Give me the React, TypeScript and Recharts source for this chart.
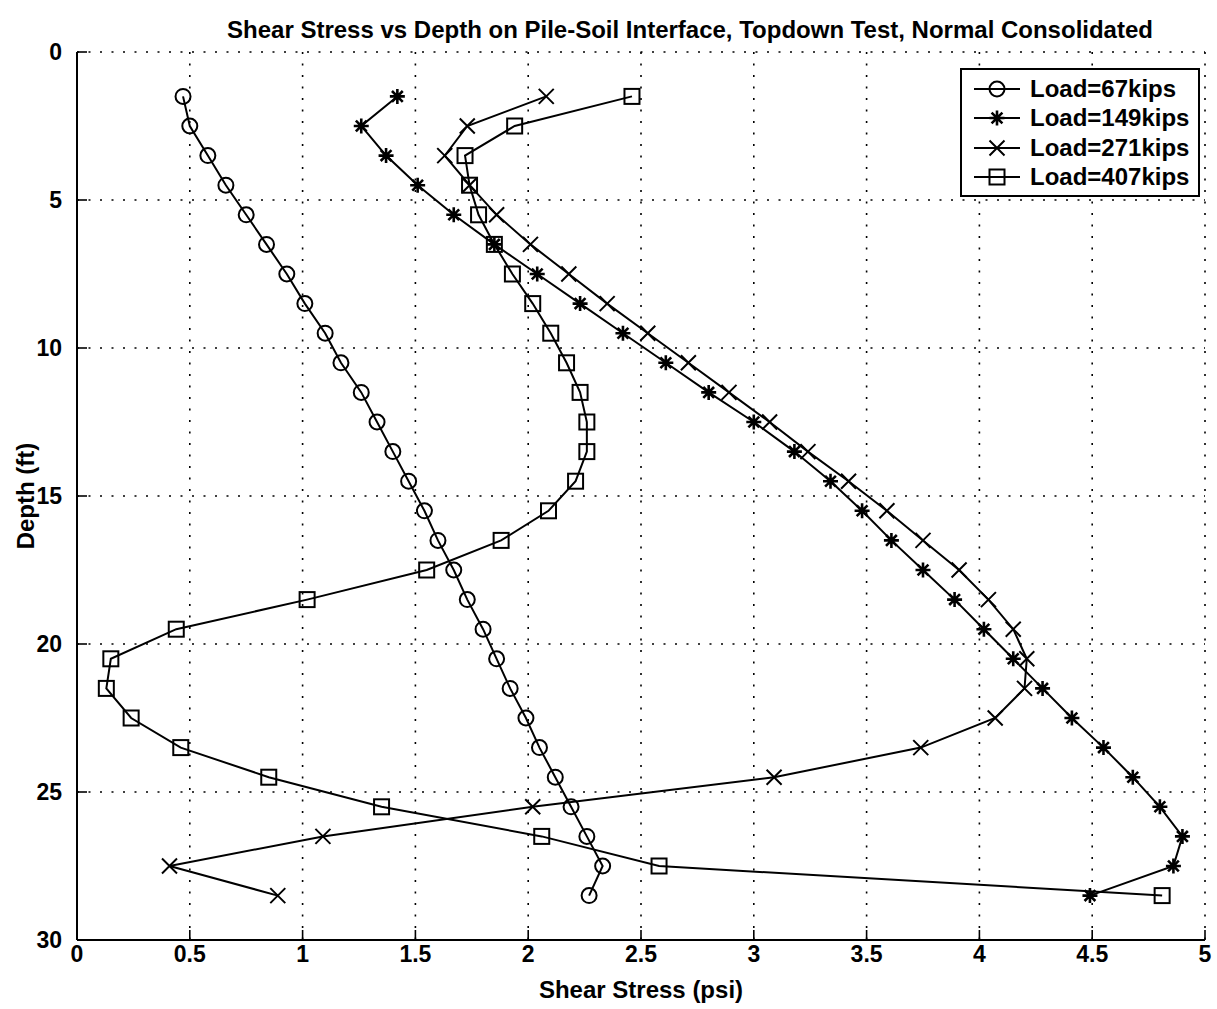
import React from "react";
import {
  ScatterChart,
  Scatter,
  XAxis,
  YAxis,
  CartesianGrid,
  Legend,
  Label,
} from "recharts";

// depth of each gauge level along the pile (ft)
const depthFt = [
  1.5, 2.5, 3.5, 4.5, 5.5, 6.5, 7.5, 8.5, 9.5, 10.5, 11.5, 12.5, 13.5, 14.5,
  15.5, 16.5, 17.5, 18.5, 19.5, 20.5, 21.5, 22.5, 23.5, 24.5, 25.5, 26.5, 27.5,
  28.5,
];

// shear stress (psi) at each depth, one list per load step
const load67 = [
  0.47, 0.5, 0.58, 0.66, 0.75, 0.84, 0.93, 1.01, 1.1, 1.17, 1.26, 1.33, 1.4,
  1.47, 1.54, 1.6, 1.67, 1.73, 1.8, 1.86, 1.92, 1.99, 2.05, 2.12, 2.19, 2.26,
  2.33, 2.27,
];
const load149 = [
  1.42, 1.26, 1.37, 1.51, 1.67, 1.85, 2.04, 2.23, 2.42, 2.61, 2.8, 3.0, 3.18,
  3.34, 3.48, 3.61, 3.75, 3.89, 4.02, 4.15, 4.28, 4.41, 4.55, 4.68, 4.8, 4.9,
  4.86, 4.49,
];
const load271 = [
  2.08, 1.73, 1.63, 1.74, 1.86, 2.01, 2.18, 2.35, 2.53, 2.71, 2.89, 3.07, 3.24,
  3.42, 3.59, 3.75, 3.91, 4.04, 4.15, 4.21, 4.2, 4.07, 3.74, 3.09, 2.02, 1.09,
  0.41, 0.89,
];
const load407 = [
  2.46, 1.94, 1.72, 1.74, 1.78, 1.85, 1.93, 2.02, 2.1, 2.17, 2.23, 2.26, 2.26,
  2.21, 2.09, 1.88, 1.55, 1.02, 0.44, 0.15, 0.13, 0.24, 0.46, 0.85, 1.35, 2.06,
  2.58, 4.81,
];

const loadNames = ["Load=67kips", "Load=149kips", "Load=271kips", "Load=407kips"];

const stressTicks = [0, 0.5, 1, 1.5, 2, 2.5, 3, 3.5, 4, 4.5, 5];
const depthTicks = [0, 5, 10, 15, 20, 25, 30];

const FONT = '"Liberation Sans", Arial, Helvetica, sans-serif';

type MarkerKind = "circle" | "asterisk" | "cross" | "square";

const series: { name: string; values: number[]; marker: MarkerKind }[] = [
  { name: loadNames[0], values: load67, marker: "circle" },
  { name: loadNames[1], values: load149, marker: "asterisk" },
  { name: loadNames[2], values: load271, marker: "cross" },
  { name: loadNames[3], values: load407, marker: "square" },
];

function Marker({ kind, cx, cy }: { kind: MarkerKind; cx: number; cy: number }) {
  const r = 7.5;
  const common = { stroke: "#000", strokeWidth: 2, fill: "none" };
  if (kind === "circle") return <circle cx={cx} cy={cy} r={r} {...common} />;
  if (kind === "square")
    return <rect x={cx - r} y={cy - r} width={2 * r} height={2 * r} {...common} />;
  if (kind === "cross")
    return (
      <path
        d={`M${cx - r},${cy - r}L${cx + r},${cy + r}M${cx - r},${cy + r}L${cx + r},${cy - r}`}
        {...common}
      />
    );
  const d = r * 0.72;
  return (
    <path
      d={`M${cx - r},${cy}L${cx + r},${cy}M${cx},${cy - r}L${cx},${cy + r}M${cx - d},${cy - d}L${cx + d},${cy + d}M${cx - d},${cy + d}L${cx + d},${cy - d}`}
      {...common}
      strokeWidth={2.6}
    />
  );
}

const renderLegend = () => (
  <div
    style={{
      border: "2px solid #000",
      background: "#fff",
      padding: "4px 4px 3px 10px",
      boxSizing: "border-box",
    }}
  >
    {series.map((s) => (
      <div key={s.name} style={{ display: "flex", alignItems: "center", height: 29.5 }}>
        <svg width={50} height={20}>
          <line x1={2} x2={48} y1={10} y2={10} stroke="#000" strokeWidth={2} />
          <Marker kind={s.marker} cx={25} cy={10} />
        </svg>
        <span
          style={{
            fontFamily: FONT,
            fontWeight: "bold",
            fontSize: 24,
            marginLeft: 8,
            lineHeight: "24px",
          }}
        >
          {s.name}
        </span>
      </div>
    ))}
  </div>
);

const tickStyle = { fill: "#000", fontSize: 23, fontWeight: "bold", fontFamily: FONT };
const axisLine = { stroke: "#000", strokeWidth: 2 };
const tickLine = { stroke: "#000", strokeWidth: 1.6 };

export default function App() {
  const seriesData = series.map((s) => ({
    ...s,
    points: depthFt.map((depth, i) => ({ stress: s.values[i], depth })),
  }));

  return (
    <div
      style={{
        position: "absolute",
        left: 0,
        top: 0,
        width: 1217,
        height: 1009,
        background: "#fff",
      }}
    >
      <div
        style={{
          position: "absolute",
          left: 690,
          top: 16,
          transform: "translateX(-50%)",
          whiteSpace: "nowrap",
          fontFamily: FONT,
          fontWeight: "bold",
          fontSize: 24,
          color: "#000",
        }}
      >
        Shear Stress vs Depth on Pile-Soil Interface, Topdown Test, Normal Consolidated
      </div>
      <ScatterChart
        width={1217}
        height={1009}
        margin={{ top: 52, right: 12, bottom: 0, left: 0 }}
      >
        <CartesianGrid stroke="#000" strokeWidth={1.6} strokeDasharray="2 9.5" />
        <XAxis
          type="number"
          dataKey="stress"
          domain={[0, 5]}
          ticks={stressTicks}
          interval={0}
          allowDataOverflow
          height={69}
          tickSize={-10}
          tickMargin={16}
          axisLine={axisLine}
          tickLine={tickLine}
          tick={tickStyle}
        >
          <Label
            value="Shear Stress (psi)"
            position="insideBottom"
            offset={11}
            style={{ fill: "#000", fontSize: 24, fontWeight: "bold", fontFamily: FONT }}
          />
        </XAxis>
        <XAxis
          xAxisId="top"
          orientation="top"
          type="number"
          domain={[0, 5]}
          ticks={stressTicks}
          interval={0}
          height={0}
          tickSize={-10}
          axisLine={axisLine}
          tickLine={tickLine}
          tick={false}
        />
        <YAxis
          type="number"
          dataKey="depth"
          reversed
          domain={[0, 30]}
          ticks={depthTicks}
          interval={0}
          allowDataOverflow
          width={77}
          tickSize={-10}
          tickMargin={25}
          axisLine={axisLine}
          tickLine={tickLine}
          tick={tickStyle}
        >
          <Label
            value="Depth (ft)"
            angle={-90}
            position="insideLeft"
            offset={25}
            style={{
              fill: "#000",
              fontSize: 24,
              fontWeight: "bold",
              fontFamily: FONT,
              textAnchor: "middle",
            }}
          />
        </YAxis>
        <YAxis
          yAxisId="right"
          orientation="right"
          type="number"
          reversed
          domain={[0, 30]}
          ticks={depthTicks}
          interval={0}
          width={0}
          tickSize={-10}
          axisLine={axisLine}
          tickLine={tickLine}
          tick={false}
        />
        <Legend
          layout="horizontal"
          verticalAlign="middle"
          align="center"
          wrapperStyle={{ left: 960, top: 68, width: 240 }}
          content={renderLegend}
        />
        {seriesData.map((s) => (
          <Scatter
            key={s.name}
            name={s.name}
            data={s.points}
            line={{ stroke: "#000", strokeWidth: 2 }}
            lineType="joint"
            fill="none"
            stroke="#000"
            isAnimationActive={false}
            shape={(p: any) => <Marker kind={s.marker} cx={p.cx} cy={p.cy} />}
          />
        ))}
      </ScatterChart>
    </div>
  );
}
